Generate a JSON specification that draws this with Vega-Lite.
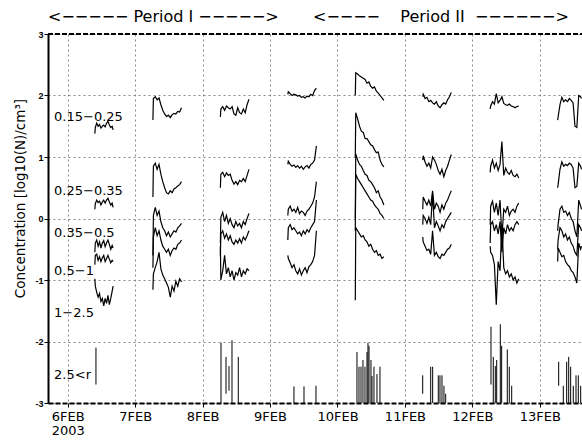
{
  "$schema": "https://vega.github.io/schema/vega-lite/v6.json",
  "width": 534,
  "height": 369,
  "autosize": "none",
  "padding": {"left": 48, "top": 34, "right": 0, "bottom": 40},
  "background": "white",
  "datasets": {
    "lines": [
      {"k":"a6","t":"2003-02-06T09:40","v":1.38},{"k":"a6","t":"2003-02-06T09:50","v":1.48},{"k":"a6","t":"2003-02-06T10:20","v":1.55},{"k":"a6","t":"2003-02-06T10:50","v":1.5},{"k":"a6","t":"2003-02-06T11:20","v":1.53},{"k":"a6","t":"2003-02-06T11:50","v":1.47},{"k":"a6","t":"2003-02-06T12:20","v":1.5},{"k":"a6","t":"2003-02-06T12:50","v":1.52},{"k":"a6","t":"2003-02-06T13:20","v":1.49},{"k":"a6","t":"2003-02-06T13:50","v":1.55},{"k":"a6","t":"2003-02-06T14:20","v":1.58},{"k":"a6","t":"2003-02-06T14:50","v":1.52},{"k":"a6","t":"2003-02-06T15:20","v":1.48},{"k":"a6","t":"2003-02-06T15:50","v":1.5},{"k":"a6","t":"2003-02-06T16:10","v":1.44},
      {"k":"a7","t":"2003-02-07T06:20","v":1.6},{"k":"a7","t":"2003-02-07T06:30","v":1.95},{"k":"a7","t":"2003-02-07T07:10","v":1.98},{"k":"a7","t":"2003-02-07T07:50","v":1.93},{"k":"a7","t":"2003-02-07T08:30","v":1.96},{"k":"a7","t":"2003-02-07T09:10","v":1.85},{"k":"a7","t":"2003-02-07T09:50","v":1.76},{"k":"a7","t":"2003-02-07T10:30","v":1.7},{"k":"a7","t":"2003-02-07T11:10","v":1.66},{"k":"a7","t":"2003-02-07T11:50","v":1.68},{"k":"a7","t":"2003-02-07T12:30","v":1.64},{"k":"a7","t":"2003-02-07T13:10","v":1.69},{"k":"a7","t":"2003-02-07T13:50","v":1.71},{"k":"a7","t":"2003-02-07T14:30","v":1.7},{"k":"a7","t":"2003-02-07T15:10","v":1.74},{"k":"a7","t":"2003-02-07T15:50","v":1.73},{"k":"a7","t":"2003-02-07T16:30","v":1.8},
      {"k":"a8","t":"2003-02-08T06:20","v":1.65},{"k":"a8","t":"2003-02-08T06:30","v":1.78},{"k":"a8","t":"2003-02-08T07:10","v":1.82},{"k":"a8","t":"2003-02-08T07:50","v":1.76},{"k":"a8","t":"2003-02-08T08:30","v":1.83},{"k":"a8","t":"2003-02-08T09:10","v":1.8},{"k":"a8","t":"2003-02-08T09:50","v":1.78},{"k":"a8","t":"2003-02-08T10:30","v":1.82},{"k":"a8","t":"2003-02-08T11:10","v":1.7},{"k":"a8","t":"2003-02-08T11:50","v":1.68},{"k":"a8","t":"2003-02-08T12:30","v":1.8},{"k":"a8","t":"2003-02-08T13:10","v":1.72},{"k":"a8","t":"2003-02-08T13:50","v":1.7},{"k":"a8","t":"2003-02-08T14:30","v":1.78},{"k":"a8","t":"2003-02-08T15:10","v":1.72},{"k":"a8","t":"2003-02-08T15:50","v":1.85},{"k":"a8","t":"2003-02-08T16:30","v":1.94},
      {"k":"a9","t":"2003-02-09T06:20","v":2.02},{"k":"a9","t":"2003-02-09T06:30","v":2.06},{"k":"a9","t":"2003-02-09T07:10","v":2.03},{"k":"a9","t":"2003-02-09T07:50","v":2.0},{"k":"a9","t":"2003-02-09T08:30","v":2.02},{"k":"a9","t":"2003-02-09T09:10","v":2.01},{"k":"a9","t":"2003-02-09T09:50","v":1.99},{"k":"a9","t":"2003-02-09T10:30","v":2.0},{"k":"a9","t":"2003-02-09T11:10","v":1.97},{"k":"a9","t":"2003-02-09T11:50","v":1.98},{"k":"a9","t":"2003-02-09T12:30","v":1.96},{"k":"a9","t":"2003-02-09T13:10","v":1.99},{"k":"a9","t":"2003-02-09T13:50","v":1.98},{"k":"a9","t":"2003-02-09T14:30","v":2.02},{"k":"a9","t":"2003-02-09T15:10","v":2.0},{"k":"a9","t":"2003-02-09T15:50","v":2.08},{"k":"a9","t":"2003-02-09T16:30","v":2.12},
      {"k":"a10","t":"2003-02-10T06:20","v":2.0},{"k":"a10","t":"2003-02-10T06:30","v":2.37},{"k":"a10","t":"2003-02-10T07:10","v":2.35},{"k":"a10","t":"2003-02-10T07:50","v":2.32},{"k":"a10","t":"2003-02-10T08:30","v":2.3},{"k":"a10","t":"2003-02-10T09:10","v":2.28},{"k":"a10","t":"2003-02-10T09:50","v":2.26},{"k":"a10","t":"2003-02-10T10:30","v":2.2},{"k":"a10","t":"2003-02-10T11:10","v":2.22},{"k":"a10","t":"2003-02-10T11:50","v":2.15},{"k":"a10","t":"2003-02-10T12:30","v":2.12},{"k":"a10","t":"2003-02-10T13:10","v":2.14},{"k":"a10","t":"2003-02-10T13:50","v":2.07},{"k":"a10","t":"2003-02-10T14:30","v":2.04},{"k":"a10","t":"2003-02-10T15:10","v":2.0},{"k":"a10","t":"2003-02-10T15:50","v":1.96},{"k":"a10","t":"2003-02-10T16:30","v":1.92},
      {"k":"a11","t":"2003-02-11T06:20","v":1.98},{"k":"a11","t":"2003-02-11T06:30","v":2.02},{"k":"a11","t":"2003-02-11T07:10","v":1.95},{"k":"a11","t":"2003-02-11T07:50","v":1.97},{"k":"a11","t":"2003-02-11T08:30","v":1.9},{"k":"a11","t":"2003-02-11T09:10","v":1.92},{"k":"a11","t":"2003-02-11T09:50","v":1.88},{"k":"a11","t":"2003-02-11T10:30","v":1.86},{"k":"a11","t":"2003-02-11T11:10","v":1.9},{"k":"a11","t":"2003-02-11T11:50","v":1.83},{"k":"a11","t":"2003-02-11T12:30","v":1.8},{"k":"a11","t":"2003-02-11T13:10","v":1.85},{"k":"a11","t":"2003-02-11T13:50","v":1.88},{"k":"a11","t":"2003-02-11T14:30","v":1.86},{"k":"a11","t":"2003-02-11T15:10","v":1.93},{"k":"a11","t":"2003-02-11T15:50","v":1.98},{"k":"a11","t":"2003-02-11T16:30","v":2.05},
      {"k":"a12","t":"2003-02-12T06:20","v":1.78},{"k":"a12","t":"2003-02-12T06:30","v":1.83},{"k":"a12","t":"2003-02-12T07:10","v":1.9},{"k":"a12","t":"2003-02-12T07:50","v":1.86},{"k":"a12","t":"2003-02-12T08:30","v":2.03},{"k":"a12","t":"2003-02-12T09:10","v":1.88},{"k":"a12","t":"2003-02-12T09:50","v":1.92},{"k":"a12","t":"2003-02-12T10:30","v":1.98},{"k":"a12","t":"2003-02-12T11:10","v":1.87},{"k":"a12","t":"2003-02-12T11:50","v":1.85},{"k":"a12","t":"2003-02-12T12:30","v":1.84},{"k":"a12","t":"2003-02-12T13:10","v":1.86},{"k":"a12","t":"2003-02-12T13:50","v":1.83},{"k":"a12","t":"2003-02-12T14:30","v":1.82},{"k":"a12","t":"2003-02-12T15:10","v":1.8},{"k":"a12","t":"2003-02-12T15:50","v":1.82},{"k":"a12","t":"2003-02-12T16:30","v":1.83},
      {"k":"a13","t":"2003-02-13T06:20","v":1.6},{"k":"a13","t":"2003-02-13T06:30","v":1.65},{"k":"a13","t":"2003-02-13T07:10","v":1.85},{"k":"a13","t":"2003-02-13T07:50","v":1.97},{"k":"a13","t":"2003-02-13T08:30","v":1.9},{"k":"a13","t":"2003-02-13T09:10","v":1.93},{"k":"a13","t":"2003-02-13T09:50","v":1.9},{"k":"a13","t":"2003-02-13T10:30","v":1.95},{"k":"a13","t":"2003-02-13T11:10","v":1.92},{"k":"a13","t":"2003-02-13T11:50","v":1.88},{"k":"a13","t":"2003-02-13T12:30","v":1.5},{"k":"a13","t":"2003-02-13T13:10","v":1.48},{"k":"a13","t":"2003-02-13T13:50","v":2.0},{"k":"a13","t":"2003-02-13T14:30","v":1.98},{"k":"a13","t":"2003-02-13T14:50","v":1.95},

      {"k":"b6","t":"2003-02-06T09:40","v":0.15},{"k":"b6","t":"2003-02-06T09:50","v":0.24},{"k":"b6","t":"2003-02-06T10:20","v":0.3},{"k":"b6","t":"2003-02-06T10:50","v":0.26},{"k":"b6","t":"2003-02-06T11:20","v":0.28},{"k":"b6","t":"2003-02-06T11:50","v":0.22},{"k":"b6","t":"2003-02-06T12:20","v":0.27},{"k":"b6","t":"2003-02-06T12:50","v":0.3},{"k":"b6","t":"2003-02-06T13:20","v":0.25},{"k":"b6","t":"2003-02-06T13:50","v":0.3},{"k":"b6","t":"2003-02-06T14:20","v":0.33},{"k":"b6","t":"2003-02-06T14:50","v":0.27},{"k":"b6","t":"2003-02-06T15:20","v":0.22},{"k":"b6","t":"2003-02-06T15:50","v":0.25},{"k":"b6","t":"2003-02-06T16:10","v":0.18},
      {"k":"b7","t":"2003-02-07T06:20","v":0.35},{"k":"b7","t":"2003-02-07T06:30","v":0.85},{"k":"b7","t":"2003-02-07T07:10","v":0.9},{"k":"b7","t":"2003-02-07T07:50","v":0.8},{"k":"b7","t":"2003-02-07T08:30","v":0.88},{"k":"b7","t":"2003-02-07T09:10","v":0.72},{"k":"b7","t":"2003-02-07T09:50","v":0.6},{"k":"b7","t":"2003-02-07T10:30","v":0.5},{"k":"b7","t":"2003-02-07T11:10","v":0.42},{"k":"b7","t":"2003-02-07T11:50","v":0.4},{"k":"b7","t":"2003-02-07T12:30","v":0.45},{"k":"b7","t":"2003-02-07T13:10","v":0.42},{"k":"b7","t":"2003-02-07T13:50","v":0.48},{"k":"b7","t":"2003-02-07T14:30","v":0.5},{"k":"b7","t":"2003-02-07T15:10","v":0.53},{"k":"b7","t":"2003-02-07T15:50","v":0.55},{"k":"b7","t":"2003-02-07T16:30","v":0.6},
      {"k":"b8","t":"2003-02-08T06:20","v":0.5},{"k":"b8","t":"2003-02-08T06:30","v":0.72},{"k":"b8","t":"2003-02-08T07:10","v":0.75},{"k":"b8","t":"2003-02-08T07:50","v":0.68},{"k":"b8","t":"2003-02-08T08:30","v":0.74},{"k":"b8","t":"2003-02-08T09:10","v":0.7},{"k":"b8","t":"2003-02-08T09:50","v":0.72},{"k":"b8","t":"2003-02-08T10:30","v":0.62},{"k":"b8","t":"2003-02-08T11:10","v":0.56},{"k":"b8","t":"2003-02-08T11:50","v":0.6},{"k":"b8","t":"2003-02-08T12:30","v":0.55},{"k":"b8","t":"2003-02-08T13:10","v":0.62},{"k":"b8","t":"2003-02-08T13:50","v":0.6},{"k":"b8","t":"2003-02-08T14:30","v":0.65},{"k":"b8","t":"2003-02-08T15:10","v":0.6},{"k":"b8","t":"2003-02-08T15:50","v":0.7},{"k":"b8","t":"2003-02-08T16:30","v":0.8},
      {"k":"b9","t":"2003-02-09T06:20","v":0.88},{"k":"b9","t":"2003-02-09T06:30","v":0.93},{"k":"b9","t":"2003-02-09T07:10","v":0.88},{"k":"b9","t":"2003-02-09T07:50","v":0.85},{"k":"b9","t":"2003-02-09T08:30","v":0.87},{"k":"b9","t":"2003-02-09T09:10","v":0.83},{"k":"b9","t":"2003-02-09T09:50","v":0.86},{"k":"b9","t":"2003-02-09T10:30","v":0.82},{"k":"b9","t":"2003-02-09T11:10","v":0.85},{"k":"b9","t":"2003-02-09T11:50","v":0.8},{"k":"b9","t":"2003-02-09T12:30","v":0.84},{"k":"b9","t":"2003-02-09T13:10","v":0.86},{"k":"b9","t":"2003-02-09T13:50","v":0.82},{"k":"b9","t":"2003-02-09T14:30","v":0.88},{"k":"b9","t":"2003-02-09T15:10","v":0.9},{"k":"b9","t":"2003-02-09T15:50","v":0.95},{"k":"b9","t":"2003-02-09T16:30","v":1.18},
      {"k":"b10","t":"2003-02-10T06:20","v":1.0},{"k":"b10","t":"2003-02-10T06:30","v":1.72},{"k":"b10","t":"2003-02-10T07:10","v":1.62},{"k":"b10","t":"2003-02-10T07:50","v":1.5},{"k":"b10","t":"2003-02-10T08:30","v":1.42},{"k":"b10","t":"2003-02-10T09:10","v":1.4},{"k":"b10","t":"2003-02-10T09:50","v":1.3},{"k":"b10","t":"2003-02-10T10:30","v":1.3},{"k":"b10","t":"2003-02-10T11:10","v":1.25},{"k":"b10","t":"2003-02-10T11:50","v":1.2},{"k":"b10","t":"2003-02-10T12:30","v":1.18},{"k":"b10","t":"2003-02-10T13:10","v":1.12},{"k":"b10","t":"2003-02-10T13:50","v":1.07},{"k":"b10","t":"2003-02-10T14:30","v":1.08},{"k":"b10","t":"2003-02-10T15:10","v":0.95},{"k":"b10","t":"2003-02-10T15:50","v":0.88},{"k":"b10","t":"2003-02-10T16:30","v":0.84},
      {"k":"b11","t":"2003-02-11T06:20","v":0.95},{"k":"b11","t":"2003-02-11T06:30","v":1.02},{"k":"b11","t":"2003-02-11T07:10","v":0.92},{"k":"b11","t":"2003-02-11T07:50","v":0.85},{"k":"b11","t":"2003-02-11T08:30","v":0.9},{"k":"b11","t":"2003-02-11T09:10","v":0.82},{"k":"b11","t":"2003-02-11T09:50","v":1.0},{"k":"b11","t":"2003-02-11T10:30","v":0.95},{"k":"b11","t":"2003-02-11T11:10","v":0.88},{"k":"b11","t":"2003-02-11T11:50","v":0.78},{"k":"b11","t":"2003-02-11T12:30","v":0.72},{"k":"b11","t":"2003-02-11T13:10","v":0.8},{"k":"b11","t":"2003-02-11T13:50","v":0.68},{"k":"b11","t":"2003-02-11T14:30","v":0.78},{"k":"b11","t":"2003-02-11T15:10","v":0.85},{"k":"b11","t":"2003-02-11T15:50","v":0.95},{"k":"b11","t":"2003-02-11T16:30","v":1.04},
      {"k":"b12","t":"2003-02-12T06:20","v":0.75},{"k":"b12","t":"2003-02-12T06:30","v":0.85},{"k":"b12","t":"2003-02-12T07:10","v":0.95},{"k":"b12","t":"2003-02-12T07:50","v":0.82},{"k":"b12","t":"2003-02-12T08:30","v":0.9},{"k":"b12","t":"2003-02-12T09:10","v":0.78},{"k":"b12","t":"2003-02-12T09:50","v":0.88},{"k":"b12","t":"2003-02-12T10:30","v":1.25},{"k":"b12","t":"2003-02-12T11:10","v":0.7},{"k":"b12","t":"2003-02-12T11:50","v":0.82},{"k":"b12","t":"2003-02-12T12:30","v":0.75},{"k":"b12","t":"2003-02-12T13:10","v":0.72},{"k":"b12","t":"2003-02-12T13:50","v":0.78},{"k":"b12","t":"2003-02-12T14:30","v":0.7},{"k":"b12","t":"2003-02-12T15:10","v":0.68},{"k":"b12","t":"2003-02-12T15:50","v":0.72},{"k":"b12","t":"2003-02-12T16:30","v":0.66},
      {"k":"b13","t":"2003-02-13T06:20","v":0.5},{"k":"b13","t":"2003-02-13T06:30","v":0.55},{"k":"b13","t":"2003-02-13T07:10","v":0.8},{"k":"b13","t":"2003-02-13T07:50","v":0.92},{"k":"b13","t":"2003-02-13T08:30","v":0.85},{"k":"b13","t":"2003-02-13T09:10","v":0.88},{"k":"b13","t":"2003-02-13T09:50","v":0.86},{"k":"b13","t":"2003-02-13T10:30","v":0.9},{"k":"b13","t":"2003-02-13T11:10","v":0.88},{"k":"b13","t":"2003-02-13T11:50","v":0.82},{"k":"b13","t":"2003-02-13T12:30","v":0.5},{"k":"b13","t":"2003-02-13T13:10","v":0.52},{"k":"b13","t":"2003-02-13T13:50","v":0.9},{"k":"b13","t":"2003-02-13T14:30","v":0.85},{"k":"b13","t":"2003-02-13T14:50","v":0.8},

      {"k":"c6","t":"2003-02-06T09:40","v":-0.55},{"k":"c6","t":"2003-02-06T09:50","v":-0.4},{"k":"c6","t":"2003-02-06T10:20","v":-0.35},{"k":"c6","t":"2003-02-06T10:50","v":-0.45},{"k":"c6","t":"2003-02-06T11:20","v":-0.38},{"k":"c6","t":"2003-02-06T11:50","v":-0.48},{"k":"c6","t":"2003-02-06T12:20","v":-0.4},{"k":"c6","t":"2003-02-06T12:50","v":-0.36},{"k":"c6","t":"2003-02-06T13:20","v":-0.46},{"k":"c6","t":"2003-02-06T13:50","v":-0.4},{"k":"c6","t":"2003-02-06T14:20","v":-0.35},{"k":"c6","t":"2003-02-06T14:50","v":-0.42},{"k":"c6","t":"2003-02-06T15:20","v":-0.5},{"k":"c6","t":"2003-02-06T15:50","v":-0.44},{"k":"c6","t":"2003-02-06T16:10","v":-0.48},
      {"k":"c7","t":"2003-02-07T06:20","v":-0.6},{"k":"c7","t":"2003-02-07T06:30","v":0.05},{"k":"c7","t":"2003-02-07T07:10","v":0.18},{"k":"c7","t":"2003-02-07T07:50","v":0.05},{"k":"c7","t":"2003-02-07T08:30","v":0.12},{"k":"c7","t":"2003-02-07T09:10","v":-0.05},{"k":"c7","t":"2003-02-07T09:50","v":-0.15},{"k":"c7","t":"2003-02-07T10:30","v":-0.2},{"k":"c7","t":"2003-02-07T11:10","v":-0.28},{"k":"c7","t":"2003-02-07T11:50","v":-0.22},{"k":"c7","t":"2003-02-07T12:30","v":-0.3},{"k":"c7","t":"2003-02-07T13:10","v":-0.25},{"k":"c7","t":"2003-02-07T13:50","v":-0.2},{"k":"c7","t":"2003-02-07T14:30","v":-0.22},{"k":"c7","t":"2003-02-07T15:10","v":-0.15},{"k":"c7","t":"2003-02-07T15:50","v":-0.12},{"k":"c7","t":"2003-02-07T16:30","v":-0.08},
      {"k":"c8","t":"2003-02-08T06:20","v":-0.4},{"k":"c8","t":"2003-02-08T06:30","v":0.02},{"k":"c8","t":"2003-02-08T07:10","v":0.1},{"k":"c8","t":"2003-02-08T07:50","v":-0.05},{"k":"c8","t":"2003-02-08T08:30","v":0.05},{"k":"c8","t":"2003-02-08T09:10","v":-0.08},{"k":"c8","t":"2003-02-08T09:50","v":0.0},{"k":"c8","t":"2003-02-08T10:30","v":-0.1},{"k":"c8","t":"2003-02-08T11:10","v":-0.15},{"k":"c8","t":"2003-02-08T11:50","v":-0.05},{"k":"c8","t":"2003-02-08T12:30","v":-0.12},{"k":"c8","t":"2003-02-08T13:10","v":-0.08},{"k":"c8","t":"2003-02-08T13:50","v":-0.15},{"k":"c8","t":"2003-02-08T14:30","v":-0.05},{"k":"c8","t":"2003-02-08T15:10","v":-0.1},{"k":"c8","t":"2003-02-08T15:50","v":0.0},{"k":"c8","t":"2003-02-08T16:30","v":0.08},
      {"k":"c9","t":"2003-02-09T06:20","v":0.05},{"k":"c9","t":"2003-02-09T06:30","v":0.15},{"k":"c9","t":"2003-02-09T07:10","v":0.2},{"k":"c9","t":"2003-02-09T07:50","v":0.12},{"k":"c9","t":"2003-02-09T08:30","v":0.15},{"k":"c9","t":"2003-02-09T09:10","v":0.1},{"k":"c9","t":"2003-02-09T09:50","v":0.18},{"k":"c9","t":"2003-02-09T10:30","v":0.08},{"k":"c9","t":"2003-02-09T11:10","v":0.12},{"k":"c9","t":"2003-02-09T11:50","v":0.1},{"k":"c9","t":"2003-02-09T12:30","v":0.05},{"k":"c9","t":"2003-02-09T13:10","v":0.12},{"k":"c9","t":"2003-02-09T13:50","v":0.15},{"k":"c9","t":"2003-02-09T14:30","v":0.2},{"k":"c9","t":"2003-02-09T15:10","v":0.25},{"k":"c9","t":"2003-02-09T15:50","v":0.35},{"k":"c9","t":"2003-02-09T16:30","v":0.6},
      {"k":"c10","t":"2003-02-10T06:20","v":0.0},{"k":"c10","t":"2003-02-10T06:30","v":1.05},{"k":"c10","t":"2003-02-10T07:10","v":0.95},{"k":"c10","t":"2003-02-10T07:50","v":0.88},{"k":"c10","t":"2003-02-10T08:30","v":0.85},{"k":"c10","t":"2003-02-10T09:10","v":0.78},{"k":"c10","t":"2003-02-10T09:50","v":0.72},{"k":"c10","t":"2003-02-10T10:30","v":0.7},{"k":"c10","t":"2003-02-10T11:10","v":0.62},{"k":"c10","t":"2003-02-10T11:50","v":0.6},{"k":"c10","t":"2003-02-10T12:30","v":0.55},{"k":"c10","t":"2003-02-10T13:10","v":0.5},{"k":"c10","t":"2003-02-10T13:50","v":0.42},{"k":"c10","t":"2003-02-10T14:30","v":0.45},{"k":"c10","t":"2003-02-10T15:10","v":0.35},{"k":"c10","t":"2003-02-10T15:50","v":0.3},{"k":"c10","t":"2003-02-10T16:30","v":0.22},
      {"k":"c11","t":"2003-02-11T06:20","v":0.15},{"k":"c11","t":"2003-02-11T06:30","v":0.35},{"k":"c11","t":"2003-02-11T07:10","v":0.28},{"k":"c11","t":"2003-02-11T07:50","v":0.22},{"k":"c11","t":"2003-02-11T08:30","v":0.3},{"k":"c11","t":"2003-02-11T09:10","v":0.2},{"k":"c11","t":"2003-02-11T09:50","v":0.45},{"k":"c11","t":"2003-02-11T10:30","v":0.15},{"k":"c11","t":"2003-02-11T11:10","v":0.25},{"k":"c11","t":"2003-02-11T11:50","v":0.2},{"k":"c11","t":"2003-02-11T12:30","v":0.1},{"k":"c11","t":"2003-02-11T13:10","v":0.22},{"k":"c11","t":"2003-02-11T13:50","v":0.15},{"k":"c11","t":"2003-02-11T14:30","v":0.25},{"k":"c11","t":"2003-02-11T15:10","v":0.3},{"k":"c11","t":"2003-02-11T15:50","v":0.38},{"k":"c11","t":"2003-02-11T16:30","v":0.45},
      {"k":"c12","t":"2003-02-12T06:20","v":-0.1},{"k":"c12","t":"2003-02-12T06:30","v":0.2},{"k":"c12","t":"2003-02-12T07:10","v":0.28},{"k":"c12","t":"2003-02-12T07:50","v":0.1},{"k":"c12","t":"2003-02-12T08:30","v":0.25},{"k":"c12","t":"2003-02-12T09:10","v":0.05},{"k":"c12","t":"2003-02-12T09:50","v":0.3},{"k":"c12","t":"2003-02-12T10:30","v":-0.3},{"k":"c12","t":"2003-02-12T11:10","v":0.15},{"k":"c12","t":"2003-02-12T11:50","v":0.1},{"k":"c12","t":"2003-02-12T12:30","v":0.2},{"k":"c12","t":"2003-02-12T13:10","v":0.05},{"k":"c12","t":"2003-02-12T13:50","v":0.12},{"k":"c12","t":"2003-02-12T14:30","v":0.15},{"k":"c12","t":"2003-02-12T15:10","v":0.1},{"k":"c12","t":"2003-02-12T15:50","v":0.2},{"k":"c12","t":"2003-02-12T16:30","v":0.25},
      {"k":"c13","t":"2003-02-13T06:20","v":-0.2},{"k":"c13","t":"2003-02-13T06:30","v":-0.1},{"k":"c13","t":"2003-02-13T07:10","v":0.15},{"k":"c13","t":"2003-02-13T07:50","v":0.2},{"k":"c13","t":"2003-02-13T08:30","v":0.1},{"k":"c13","t":"2003-02-13T09:10","v":0.12},{"k":"c13","t":"2003-02-13T09:50","v":0.05},{"k":"c13","t":"2003-02-13T10:30","v":0.1},{"k":"c13","t":"2003-02-13T11:10","v":0.0},{"k":"c13","t":"2003-02-13T11:50","v":-0.05},{"k":"c13","t":"2003-02-13T12:30","v":-0.2},{"k":"c13","t":"2003-02-13T13:10","v":-0.3},{"k":"c13","t":"2003-02-13T13:50","v":0.3},{"k":"c13","t":"2003-02-13T14:30","v":0.2},{"k":"c13","t":"2003-02-13T14:50","v":0.15},

      {"k":"d6","t":"2003-02-06T09:40","v":-0.75},{"k":"d6","t":"2003-02-06T09:50","v":-0.6},{"k":"d6","t":"2003-02-06T10:20","v":-0.58},{"k":"d6","t":"2003-02-06T10:50","v":-0.68},{"k":"d6","t":"2003-02-06T11:20","v":-0.62},{"k":"d6","t":"2003-02-06T11:50","v":-0.7},{"k":"d6","t":"2003-02-06T12:20","v":-0.64},{"k":"d6","t":"2003-02-06T12:50","v":-0.6},{"k":"d6","t":"2003-02-06T13:20","v":-0.7},{"k":"d6","t":"2003-02-06T13:50","v":-0.65},{"k":"d6","t":"2003-02-06T14:20","v":-0.6},{"k":"d6","t":"2003-02-06T14:50","v":-0.66},{"k":"d6","t":"2003-02-06T15:20","v":-0.72},{"k":"d6","t":"2003-02-06T15:50","v":-0.68},{"k":"d6","t":"2003-02-06T16:10","v":-0.7},
      {"k":"d7","t":"2003-02-07T06:20","v":-0.8},{"k":"d7","t":"2003-02-07T06:30","v":-0.3},{"k":"d7","t":"2003-02-07T07:10","v":-0.15},{"k":"d7","t":"2003-02-07T07:50","v":-0.28},{"k":"d7","t":"2003-02-07T08:30","v":-0.2},{"k":"d7","t":"2003-02-07T09:10","v":-0.35},{"k":"d7","t":"2003-02-07T09:50","v":-0.45},{"k":"d7","t":"2003-02-07T10:30","v":-0.5},{"k":"d7","t":"2003-02-07T11:10","v":-0.55},{"k":"d7","t":"2003-02-07T11:50","v":-0.5},{"k":"d7","t":"2003-02-07T12:30","v":-0.6},{"k":"d7","t":"2003-02-07T13:10","v":-0.52},{"k":"d7","t":"2003-02-07T13:50","v":-0.48},{"k":"d7","t":"2003-02-07T14:30","v":-0.5},{"k":"d7","t":"2003-02-07T15:10","v":-0.42},{"k":"d7","t":"2003-02-07T15:50","v":-0.4},{"k":"d7","t":"2003-02-07T16:30","v":-0.35},
      {"k":"d8","t":"2003-02-08T06:20","v":-0.6},{"k":"d8","t":"2003-02-08T06:30","v":-0.25},{"k":"d8","t":"2003-02-08T07:10","v":-0.2},{"k":"d8","t":"2003-02-08T07:50","v":-0.32},{"k":"d8","t":"2003-02-08T08:30","v":-0.25},{"k":"d8","t":"2003-02-08T09:10","v":-0.35},{"k":"d8","t":"2003-02-08T09:50","v":-0.28},{"k":"d8","t":"2003-02-08T10:30","v":-0.38},{"k":"d8","t":"2003-02-08T11:10","v":-0.42},{"k":"d8","t":"2003-02-08T11:50","v":-0.35},{"k":"d8","t":"2003-02-08T12:30","v":-0.4},{"k":"d8","t":"2003-02-08T13:10","v":-0.33},{"k":"d8","t":"2003-02-08T13:50","v":-0.4},{"k":"d8","t":"2003-02-08T14:30","v":-0.3},{"k":"d8","t":"2003-02-08T15:10","v":-0.35},{"k":"d8","t":"2003-02-08T15:50","v":-0.28},{"k":"d8","t":"2003-02-08T16:30","v":-0.2},
      {"k":"d9","t":"2003-02-09T06:20","v":-0.35},{"k":"d9","t":"2003-02-09T06:30","v":-0.15},{"k":"d9","t":"2003-02-09T07:10","v":-0.1},{"k":"d9","t":"2003-02-09T07:50","v":-0.18},{"k":"d9","t":"2003-02-09T08:30","v":-0.15},{"k":"d9","t":"2003-02-09T09:10","v":-0.2},{"k":"d9","t":"2003-02-09T09:50","v":-0.25},{"k":"d9","t":"2003-02-09T10:30","v":-0.22},{"k":"d9","t":"2003-02-09T11:10","v":-0.28},{"k":"d9","t":"2003-02-09T11:50","v":-0.2},{"k":"d9","t":"2003-02-09T12:30","v":-0.25},{"k":"d9","t":"2003-02-09T13:10","v":-0.18},{"k":"d9","t":"2003-02-09T13:50","v":-0.22},{"k":"d9","t":"2003-02-09T14:30","v":-0.15},{"k":"d9","t":"2003-02-09T15:10","v":-0.1},{"k":"d9","t":"2003-02-09T15:50","v":-0.05},{"k":"d9","t":"2003-02-09T16:30","v":0.3},
      {"k":"d10","t":"2003-02-10T06:20","v":-0.2},{"k":"d10","t":"2003-02-10T06:30","v":0.72},{"k":"d10","t":"2003-02-10T07:10","v":0.65},{"k":"d10","t":"2003-02-10T07:50","v":0.6},{"k":"d10","t":"2003-02-10T08:30","v":0.55},{"k":"d10","t":"2003-02-10T09:10","v":0.5},{"k":"d10","t":"2003-02-10T09:50","v":0.45},{"k":"d10","t":"2003-02-10T10:30","v":0.4},{"k":"d10","t":"2003-02-10T11:10","v":0.35},{"k":"d10","t":"2003-02-10T11:50","v":0.3},{"k":"d10","t":"2003-02-10T12:30","v":0.28},{"k":"d10","t":"2003-02-10T13:10","v":0.22},{"k":"d10","t":"2003-02-10T13:50","v":0.18},{"k":"d10","t":"2003-02-10T14:30","v":0.15},{"k":"d10","t":"2003-02-10T15:10","v":0.08},{"k":"d10","t":"2003-02-10T15:50","v":0.05},{"k":"d10","t":"2003-02-10T16:30","v":0.0},
      {"k":"d11","t":"2003-02-11T06:20","v":-0.1},{"k":"d11","t":"2003-02-11T06:30","v":0.05},{"k":"d11","t":"2003-02-11T07:10","v":0.0},{"k":"d11","t":"2003-02-11T07:50","v":-0.08},{"k":"d11","t":"2003-02-11T08:30","v":0.02},{"k":"d11","t":"2003-02-11T09:10","v":-0.1},{"k":"d11","t":"2003-02-11T09:50","v":0.4},{"k":"d11","t":"2003-02-11T10:30","v":-0.15},{"k":"d11","t":"2003-02-11T11:10","v":-0.05},{"k":"d11","t":"2003-02-11T11:50","v":-0.12},{"k":"d11","t":"2003-02-11T12:30","v":-0.2},{"k":"d11","t":"2003-02-11T13:10","v":-0.1},{"k":"d11","t":"2003-02-11T13:50","v":-0.15},{"k":"d11","t":"2003-02-11T14:30","v":-0.05},{"k":"d11","t":"2003-02-11T15:10","v":0.0},{"k":"d11","t":"2003-02-11T15:50","v":0.05},{"k":"d11","t":"2003-02-11T16:30","v":0.1},
      {"k":"d12","t":"2003-02-12T06:20","v":-0.4},{"k":"d12","t":"2003-02-12T06:30","v":-0.1},{"k":"d12","t":"2003-02-12T07:10","v":-0.05},{"k":"d12","t":"2003-02-12T07:50","v":-0.2},{"k":"d12","t":"2003-02-12T08:30","v":-0.1},{"k":"d12","t":"2003-02-12T09:10","v":-0.25},{"k":"d12","t":"2003-02-12T09:50","v":-0.05},{"k":"d12","t":"2003-02-12T10:30","v":-0.55},{"k":"d12","t":"2003-02-12T11:10","v":-0.15},{"k":"d12","t":"2003-02-12T11:50","v":-0.25},{"k":"d12","t":"2003-02-12T12:30","v":-0.1},{"k":"d12","t":"2003-02-12T13:10","v":-0.2},{"k":"d12","t":"2003-02-12T13:50","v":-0.15},{"k":"d12","t":"2003-02-12T14:30","v":-0.2},{"k":"d12","t":"2003-02-12T15:10","v":-0.1},{"k":"d12","t":"2003-02-12T15:50","v":-0.05},{"k":"d12","t":"2003-02-12T16:30","v":-0.1},
      {"k":"d13","t":"2003-02-13T06:20","v":-0.5},{"k":"d13","t":"2003-02-13T06:30","v":-0.35},{"k":"d13","t":"2003-02-13T07:10","v":-0.15},{"k":"d13","t":"2003-02-13T07:50","v":-0.2},{"k":"d13","t":"2003-02-13T08:30","v":-0.3},{"k":"d13","t":"2003-02-13T09:10","v":-0.25},{"k":"d13","t":"2003-02-13T09:50","v":-0.35},{"k":"d13","t":"2003-02-13T10:30","v":-0.3},{"k":"d13","t":"2003-02-13T11:10","v":-0.4},{"k":"d13","t":"2003-02-13T11:50","v":-0.45},{"k":"d13","t":"2003-02-13T12:30","v":-0.55},{"k":"d13","t":"2003-02-13T13:10","v":-0.6},{"k":"d13","t":"2003-02-13T13:50","v":-0.1},{"k":"d13","t":"2003-02-13T14:30","v":-0.15},{"k":"d13","t":"2003-02-13T14:50","v":-0.2},

      {"k":"e6","t":"2003-02-06T09:40","v":-0.98},{"k":"e6","t":"2003-02-06T09:50","v":-1.1},{"k":"e6","t":"2003-02-06T10:20","v":-1.2},{"k":"e6","t":"2003-02-06T10:50","v":-1.28},{"k":"e6","t":"2003-02-06T11:20","v":-1.22},{"k":"e6","t":"2003-02-06T11:50","v":-1.35},{"k":"e6","t":"2003-02-06T12:20","v":-1.3},{"k":"e6","t":"2003-02-06T12:50","v":-1.42},{"k":"e6","t":"2003-02-06T13:20","v":-1.3},{"k":"e6","t":"2003-02-06T13:50","v":-1.38},{"k":"e6","t":"2003-02-06T14:20","v":-1.25},{"k":"e6","t":"2003-02-06T14:50","v":-1.4},{"k":"e6","t":"2003-02-06T15:20","v":-1.3},{"k":"e6","t":"2003-02-06T15:50","v":-1.18},{"k":"e6","t":"2003-02-06T16:10","v":-1.1},
      {"k":"e7","t":"2003-02-07T06:20","v":-1.16},{"k":"e7","t":"2003-02-07T06:30","v":-0.9},{"k":"e7","t":"2003-02-07T07:10","v":-0.8},{"k":"e7","t":"2003-02-07T07:50","v":-0.7},{"k":"e7","t":"2003-02-07T08:30","v":-0.55},{"k":"e7","t":"2003-02-07T09:10","v":-0.82},{"k":"e7","t":"2003-02-07T09:50","v":-0.92},{"k":"e7","t":"2003-02-07T10:30","v":-0.98},{"k":"e7","t":"2003-02-07T11:10","v":-1.05},{"k":"e7","t":"2003-02-07T11:50","v":-1.12},{"k":"e7","t":"2003-02-07T12:30","v":-1.28},{"k":"e7","t":"2003-02-07T13:10","v":-1.1},{"k":"e7","t":"2003-02-07T13:50","v":-1.18},{"k":"e7","t":"2003-02-07T14:30","v":-1.02},{"k":"e7","t":"2003-02-07T15:10","v":-1.1},{"k":"e7","t":"2003-02-07T15:50","v":-0.98},{"k":"e7","t":"2003-02-07T16:30","v":-1.03},
      {"k":"e8","t":"2003-02-08T06:20","v":-0.45},{"k":"e8","t":"2003-02-08T06:30","v":-1.0},{"k":"e8","t":"2003-02-08T07:10","v":-0.85},{"k":"e8","t":"2003-02-08T07:50","v":-0.6},{"k":"e8","t":"2003-02-08T08:30","v":-0.9},{"k":"e8","t":"2003-02-08T09:10","v":-0.8},{"k":"e8","t":"2003-02-08T09:50","v":-0.95},{"k":"e8","t":"2003-02-08T10:30","v":-0.85},{"k":"e8","t":"2003-02-08T11:10","v":-1.0},{"k":"e8","t":"2003-02-08T11:50","v":-0.88},{"k":"e8","t":"2003-02-08T12:30","v":-0.92},{"k":"e8","t":"2003-02-08T13:10","v":-0.8},{"k":"e8","t":"2003-02-08T13:50","v":-0.95},{"k":"e8","t":"2003-02-08T14:30","v":-0.85},{"k":"e8","t":"2003-02-08T15:10","v":-0.9},{"k":"e8","t":"2003-02-08T15:50","v":-0.82},{"k":"e8","t":"2003-02-08T16:30","v":-0.85},
      {"k":"e9","t":"2003-02-09T06:20","v":-0.6},{"k":"e9","t":"2003-02-09T06:30","v":-0.65},{"k":"e9","t":"2003-02-09T07:10","v":-0.72},{"k":"e9","t":"2003-02-09T07:50","v":-0.8},{"k":"e9","t":"2003-02-09T08:30","v":-0.75},{"k":"e9","t":"2003-02-09T09:10","v":-0.85},{"k":"e9","t":"2003-02-09T09:50","v":-0.9},{"k":"e9","t":"2003-02-09T10:30","v":-0.82},{"k":"e9","t":"2003-02-09T11:10","v":-0.92},{"k":"e9","t":"2003-02-09T11:50","v":-0.85},{"k":"e9","t":"2003-02-09T12:30","v":-0.8},{"k":"e9","t":"2003-02-09T13:10","v":-0.88},{"k":"e9","t":"2003-02-09T13:50","v":-0.78},{"k":"e9","t":"2003-02-09T14:30","v":-0.75},{"k":"e9","t":"2003-02-09T15:10","v":-0.7},{"k":"e9","t":"2003-02-09T15:50","v":-0.6},{"k":"e9","t":"2003-02-09T16:30","v":-0.2},
      {"k":"e10","t":"2003-02-10T06:20","v":-1.33},{"k":"e10","t":"2003-02-10T06:30","v":-0.15},{"k":"e10","t":"2003-02-10T07:10","v":-0.2},{"k":"e10","t":"2003-02-10T07:50","v":-0.25},{"k":"e10","t":"2003-02-10T08:30","v":-0.3},{"k":"e10","t":"2003-02-10T09:10","v":-0.28},{"k":"e10","t":"2003-02-10T09:50","v":-0.35},{"k":"e10","t":"2003-02-10T10:30","v":-0.38},{"k":"e10","t":"2003-02-10T11:10","v":-0.45},{"k":"e10","t":"2003-02-10T11:50","v":-0.42},{"k":"e10","t":"2003-02-10T12:30","v":-0.5},{"k":"e10","t":"2003-02-10T13:10","v":-0.55},{"k":"e10","t":"2003-02-10T13:50","v":-0.52},{"k":"e10","t":"2003-02-10T14:30","v":-0.6},{"k":"e10","t":"2003-02-10T15:10","v":-0.58},{"k":"e10","t":"2003-02-10T15:50","v":-0.65},{"k":"e10","t":"2003-02-10T16:30","v":-0.62},
      {"k":"e11","t":"2003-02-11T06:20","v":-0.3},{"k":"e11","t":"2003-02-11T06:30","v":-0.38},{"k":"e11","t":"2003-02-11T07:10","v":-0.45},{"k":"e11","t":"2003-02-11T07:50","v":-0.52},{"k":"e11","t":"2003-02-11T08:30","v":-0.5},{"k":"e11","t":"2003-02-11T09:10","v":-0.58},{"k":"e11","t":"2003-02-11T09:50","v":-0.2},{"k":"e11","t":"2003-02-11T10:30","v":-0.6},{"k":"e11","t":"2003-02-11T11:10","v":-0.55},{"k":"e11","t":"2003-02-11T11:50","v":-0.62},{"k":"e11","t":"2003-02-11T12:30","v":-0.65},{"k":"e11","t":"2003-02-11T13:10","v":-0.58},{"k":"e11","t":"2003-02-11T13:50","v":-0.6},{"k":"e11","t":"2003-02-11T14:30","v":-0.55},{"k":"e11","t":"2003-02-11T15:10","v":-0.5},{"k":"e11","t":"2003-02-11T15:50","v":-0.48},{"k":"e11","t":"2003-02-11T16:30","v":-0.42},
      {"k":"e12","t":"2003-02-12T06:20","v":-0.45},{"k":"e12","t":"2003-02-12T06:30","v":-0.55},{"k":"e12","t":"2003-02-12T07:10","v":-0.6},{"k":"e12","t":"2003-02-12T07:50","v":-0.75},{"k":"e12","t":"2003-02-12T08:30","v":-1.4},{"k":"e12","t":"2003-02-12T09:10","v":-0.7},{"k":"e12","t":"2003-02-12T09:50","v":-0.85},{"k":"e12","t":"2003-02-12T10:30","v":-0.1},{"k":"e12","t":"2003-02-12T11:10","v":-0.8},{"k":"e12","t":"2003-02-12T11:50","v":-0.9},{"k":"e12","t":"2003-02-12T12:30","v":-0.85},{"k":"e12","t":"2003-02-12T13:10","v":-0.95},{"k":"e12","t":"2003-02-12T13:50","v":-0.9},{"k":"e12","t":"2003-02-12T14:30","v":-1.0},{"k":"e12","t":"2003-02-12T15:10","v":-0.95},{"k":"e12","t":"2003-02-12T15:50","v":-1.05},{"k":"e12","t":"2003-02-12T16:30","v":-0.98},
      {"k":"e13","t":"2003-02-13T06:20","v":-0.7},{"k":"e13","t":"2003-02-13T06:30","v":-0.48},{"k":"e13","t":"2003-02-13T07:10","v":-0.55},{"k":"e13","t":"2003-02-13T07:50","v":-0.62},{"k":"e13","t":"2003-02-13T08:30","v":-0.6},{"k":"e13","t":"2003-02-13T09:10","v":-0.7},{"k":"e13","t":"2003-02-13T09:50","v":-0.75},{"k":"e13","t":"2003-02-13T10:30","v":-0.78},{"k":"e13","t":"2003-02-13T11:10","v":-0.85},{"k":"e13","t":"2003-02-13T11:50","v":-0.88},{"k":"e13","t":"2003-02-13T12:30","v":-0.95},{"k":"e13","t":"2003-02-13T13:10","v":-1.05},{"k":"e13","t":"2003-02-13T13:50","v":-0.4},{"k":"e13","t":"2003-02-13T14:30","v":-0.5},{"k":"e13","t":"2003-02-13T14:50","v":-0.45}
    ],
    "bars": [
      {"t":"2003-02-06T10:04","hi":-2.1,"lo":-2.7},
      {"t":"2003-02-08T06:33","hi":-2.02,"lo":-3},{"t":"2003-02-08T08:20","hi":-2.25,"lo":-2.85},{"t":"2003-02-08T09:24","hi":-2.4,"lo":-2.8},{"t":"2003-02-08T10:28","hi":-1.98,"lo":-3},{"t":"2003-02-08T12:42","hi":-2.25,"lo":-3},
      {"t":"2003-02-09T08:31","hi":-2.73,"lo":-3},{"t":"2003-02-09T12:05","hi":-2.73,"lo":-3},{"t":"2003-02-09T16:21","hi":-2.72,"lo":-3},
      {"t":"2003-02-10T06:56","hi":-2.17,"lo":-3},{"t":"2003-02-10T07:39","hi":-2.41,"lo":-3},{"t":"2003-02-10T08:22","hi":-2.41,"lo":-3},{"t":"2003-02-10T09:04","hi":-2.3,"lo":-3},{"t":"2003-02-10T09:47","hi":-2.41,"lo":-3},{"t":"2003-02-10T10:30","hi":-2.17,"lo":-3},{"t":"2003-02-10T10:51","hi":-2.02,"lo":-3},{"t":"2003-02-10T11:13","hi":-2.07,"lo":-3},{"t":"2003-02-10T11:55","hi":-2.3,"lo":-3},{"t":"2003-02-10T12:17","hi":-2.56,"lo":-3},{"t":"2003-02-10T12:59","hi":-2.41,"lo":-3},{"t":"2003-02-10T14:03","hi":-2.53,"lo":-3},{"t":"2003-02-10T15:07","hi":-2.41,"lo":-3},
      {"t":"2003-02-11T06:19","hi":-2.55,"lo":-2.85},{"t":"2003-02-11T09:10","hi":-2.41,"lo":-3},{"t":"2003-02-11T09:52","hi":-2.41,"lo":-3},{"t":"2003-02-11T11:52","hi":-2.55,"lo":-3},{"t":"2003-02-11T12:28","hi":-2.55,"lo":-3},{"t":"2003-02-11T13:11","hi":-2.55,"lo":-3},{"t":"2003-02-11T13:53","hi":-2.72,"lo":-3},{"t":"2003-02-11T14:30","hi":-2.85,"lo":-3},
      {"t":"2003-02-12T06:37","hi":-1.76,"lo":-2.7},{"t":"2003-02-12T07:26","hi":-2.25,"lo":-3},{"t":"2003-02-12T08:09","hi":-2.4,"lo":-3},{"t":"2003-02-12T08:39","hi":-2.3,"lo":-3},{"t":"2003-02-12T09:56","hi":-1.72,"lo":-3},{"t":"2003-02-12T10:25","hi":-2.07,"lo":-3},{"t":"2003-02-12T12:25","hi":-2.13,"lo":-3},{"t":"2003-02-12T13:08","hi":-2.41,"lo":-3},{"t":"2003-02-12T13:59","hi":-2.72,"lo":-3},
      {"t":"2003-02-13T06:42","hi":-2.33,"lo":-2.72},{"t":"2003-02-13T08:21","hi":-2.72,"lo":-3},{"t":"2003-02-13T09:33","hi":-2.33,"lo":-3},{"t":"2003-02-13T10:16","hi":-2.25,"lo":-3},{"t":"2003-02-13T10:58","hi":-2.41,"lo":-3},{"t":"2003-02-13T11:54","hi":-2.72,"lo":-3},{"t":"2003-02-13T12:52","hi":-2.55,"lo":-3},{"t":"2003-02-13T13:41","hi":-2.55,"lo":-3},{"t":"2003-02-13T14:32","hi":-2.72,"lo":-3}
    ],
    "labels": [
      {"t":"2003-02-05T19:10","v":1.65,"label":"0.15−0.25"},
      {"t":"2003-02-05T19:10","v":0.45,"label":"0.25−0.35"},
      {"t":"2003-02-05T19:10","v":-0.24,"label":"0.35−0.5"},
      {"t":"2003-02-05T19:10","v":-0.85,"label":"0.5−1"},
      {"t":"2003-02-05T19:10","v":-1.53,"label":"1−2.5"},
      {"t":"2003-02-05T19:10","v":-2.55,"label":"2.5<r"}
    ],
    "periods": [
      {"t":"2003-02-05T17:00","v":3.27,"label":"<−−−−− Period I −−−−−>"},
      {"t":"2003-02-09T15:17","v":3.27,"label":"<−−−−\u00a0\u00a0\u00a0\u00a0Period\u00a0II\u00a0\u00a0−−−−−−>"}
    ],
    "border": [{"v":3}]
  },
  "encoding": {
    "x": {
      "field": "t", "type": "temporal", "title": null,
      "scale": {"domain": [{"year":2003,"month":2,"date":5,"hours":17},{"year":2003,"month":2,"date":13,"hours":15}]},
      "axis": {
        "tickCount": {"interval": "day", "step": 1},
        "labelExpr": "date(datum.value) == 6 ? ['6FEB', '2003'] : upper(timeFormat(datum.value, '%-d%b'))",
        "domainDash": [5, 2], "domainWidth": 2, "domainColor": "#000",
        "tickSize": 4, "tickColor": "#000", "tickWidth": 1,
        "grid": true, "gridDash": [2, 3], "gridColor": "#888", "gridWidth": 1,
        "labelFont": "DejaVu Sans", "labelFontSize": 13, "labelColor": "#000",
        "labelPadding": 3, "labelLineHeight": 14, "labelOverlap": false, "labelFlush": false
      }
    },
    "y": {
      "field": "v", "type": "quantitative", "title": "Concentration  [log10(N)/cm³]",
      "scale": {"domain": [-3, 3], "nice": false, "zero": false},
      "axis": {
        "values": [-3, -2, -1, 0, 1, 2, 3],
        "labelExpr": "replace(format(datum.value, 'd'), '−', '-')",
        "domainWidth": 2, "domainColor": "#000",
        "tickSize": 4, "tickColor": "#000", "tickWidth": 1,
        "grid": true, "gridDash": [2, 3], "gridColor": "#888", "gridWidth": 1,
        "labelFont": "Liberation Sans", "labelFontWeight": "bold", "labelFontSize": 9, "labelColor": "#000", "labelPadding": 1,
        "titleFont": "DejaVu Sans", "titleFontSize": 13.5, "titleFontWeight": "normal", "titleColor": "#000",
        "titleAngle": 270, "titleX": -28, "titleY": 164, "titleAlign": "center", "titleBaseline": "middle"
      }
    }
  },
  "layer": [
    {
      "data": {"name": "lines"},
      "mark": {"type": "line", "color": "#000", "strokeWidth": 1.2, "clip": true},
      "encoding": {"detail": {"field": "k", "type": "nominal"}}
    },
    {
      "data": {"name": "bars"},
      "mark": {"type": "rule", "color": "#000", "strokeWidth": 1},
      "encoding": {
        "y": {"field": "hi", "type": "quantitative", "title": "Concentration  [log10(N)/cm³]"},
        "y2": {"field": "lo"}
      }
    },
    {
      "data": {"name": "labels"},
      "mark": {"type": "text", "align": "left", "baseline": "middle", "font": "DejaVu Sans", "fontSize": 13, "color": "#000"},
      "encoding": {"text": {"field": "label"}}
    },
    {
      "data": {"name": "periods"},
      "mark": {"type": "text", "align": "left", "baseline": "middle", "font": "DejaVu Sans", "fontSize": 16, "color": "#000"},
      "encoding": {"text": {"field": "label"}}
    },
    {
      "data": {"name": "border"},
      "mark": {"type": "rule", "color": "#000", "strokeWidth": 2, "strokeDash": [5, 2]},
      "encoding": {"x": {"value": 0}, "x2": {"value": 534}}
    }
  ],
  "config": {"view": {"stroke": null}}
}
